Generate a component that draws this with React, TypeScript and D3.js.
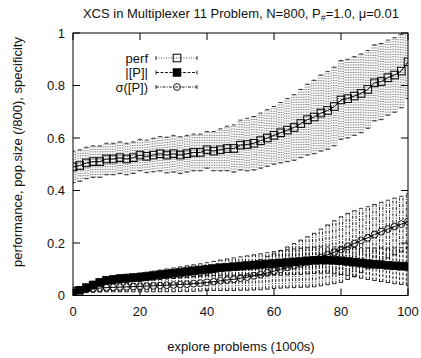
import React from "react";
import * as d3 from "d3";

const xs = d3.range(0, 101, 2);
const perf = [0.49,0.495,0.505,0.51,0.51,0.52,0.52,0.525,0.52,0.525,0.535,0.53,0.535,0.54,0.535,0.54,0.535,0.54,0.545,0.545,0.555,0.55,0.555,0.56,0.56,0.573,0.575,0.58,0.59,0.6,0.61,0.62,0.63,0.64,0.655,0.67,0.68,0.695,0.705,0.72,0.745,0.75,0.76,0.77,0.785,0.81,0.815,0.83,0.84,0.855,0.89];
const perfStd = [0.06,.06,.06,.06,.06,.06,.06,.06,.06,.06,.06,.062,.064,.066,.068,.07,.07,.07,.07,.07,.07,.075,.08,.085,.09,.095,.1,.102,.105,.108,.11,.115,.12,.125,.13,.135,.14,.145,.148,.15,.15,.15,.15,.15,.148,.145,.145,.143,.142,.14,.14];
const popSize = [0.01,.02,.03,.04,.05,.058,.061,.064,.066,.068,.07,.073,.076,.079,.082,.085,.088,.091,.094,.097,.1,.103,.106,.108,.11,.112,.114,.116,.118,.12,.122,.124,.126,.128,.13,.132,.134,.135,.135,.134,.132,.13,.127,.124,.121,.119,.117,.115,.113,.112,.111];
const popStd = [0.01,.012,.013,.014,.014,.014,.014,.015,.015,.015,.016,.016,.017,.018,.019,.02,.021,.022,.023,.024,.025,.027,.029,.031,.033,.035,.037,.039,.041,.043,.045,.047,.048,.049,.05,.05,.05,.05,.05,.051,.052,.054,.056,.058,.06,.062,.064,.066,.068,.07,.072];
const spec = [0.02,.022,.024,.026,.028,.03,.031,.032,.033,.034,.035,.036,.037,.038,.039,.04,.042,.043,.045,.047,.05,.053,.056,.059,.062,.066,.07,.075,.08,.086,.093,.1,.107,.114,.121,.128,.135,.145,.155,.165,.175,.187,.198,.21,.22,.232,.243,.253,.263,.272,.282];
const specStd = [0.01,.012,.013,.014,.015,.016,.017,.018,.019,.02,.021,.022,.023,.024,.025,.026,.027,.028,.029,.03,.031,.034,.037,.04,.043,.046,.05,.054,.058,.062,.066,.072,.078,.084,.09,.096,.102,.108,.114,.12,.125,.126,.125,.122,.118,.115,.112,.11,.108,.106,.105];

const xTicks = [0, 20, 40, 60, 80, 100];
const yTicks = [0, 0.2, 0.4, 0.6, 0.8, 1];
const legendLabels = ["perf", "|[P]|", "σ([P])"];

const L = 73, R = 408, T = 33, B = 295.5;
const FONT = "'Liberation Sans', Arial, Helvetica, sans-serif";

export default function App() {
  const x = d3.scaleLinear().domain([0, 100]).range([L, R]);
  const y = d3.scaleLinear().domain([0, 1]).range([B, T]);
  const line = d3.line<number>().x((_, i) => x(xs[i])).y((d) => y(d));
  const step = x(xs[1]) - x(xs[0]);

  const series = [
    { vals: perf, std: perfStd, dash: "1,1.5", width: 0.7, marker: "sq", strands: 4, color: "#333" },
    { vals: popSize, std: popStd, dash: "3,1.5", width: 0.9, marker: "fsq", strands: 2, color: "#000" },
    { vals: spec, std: specStd, dash: "3,1.2,1,1.2", width: 0.9, marker: "circ", strands: 2, color: "#000" },
  ];

  const marker = (type: string, cx: number, cy: number, key: string) => {
    if (type === "sq")
      return <rect key={key} x={cx - 3.8} y={cy - 3.8} width={7.6} height={7.6} fill="none" stroke="#000" strokeWidth={1} />;
    if (type === "fsq")
      return <rect key={key} x={cx - 4} y={cy - 4} width={8} height={8} fill="#000" stroke="#000" strokeWidth={0.5} />;
    return <circle key={key} cx={cx} cy={cy} r={3.4} fill="none" stroke="#000" strokeWidth={0.9} />;
  };

  return (
    <svg width={421} height={358} style={{ position: "absolute", left: 0, top: 0 }} fontFamily={FONT}>
      <rect width={421} height={358} fill="#fff" />
      <defs>
        <clipPath id="plot">
          <rect x={L} y={T} width={R - L} height={B - T} />
        </clipPath>
      </defs>
      <text x={241} y={18} textAnchor="middle" fontSize={13} fill="#111">
        XCS in Multiplexer 11 Problem, N=800, P<tspan fontSize={9} dy={3}>#</tspan>
        <tspan dy={-3}>=1.0, μ=0.01</tspan>
      </text>
      <g clipPath="url(#plot)">
        {series.map((s, si) => (
          <g key={"eb" + si}>
            {s.vals.map((v, i) => {
              const cx = x(xs[i]);
              const lo = y(v - s.std[i]);
              const hi = y(v + s.std[i]);
              const strands = d3.range(s.strands).map((k) => cx + (k - (s.strands - 1) / 2) * (step / s.strands));
              return (
                <g key={i}>
                  {strands.map((sx, k) => (
                    <line key={k} x1={sx} x2={sx} y1={lo} y2={hi} stroke={s.color} strokeWidth={s.width} strokeDasharray={s.dash} />
                  ))}
                  <line x1={cx - 2} x2={cx + 2} y1={lo} y2={lo} stroke="#000" strokeWidth={0.8} />
                  <line x1={cx - 2} x2={cx + 2} y1={hi} y2={hi} stroke="#000" strokeWidth={0.8} />
                </g>
              );
            })}
          </g>
        ))}
        {series.map((s, si) => (
          <g key={"ln" + si}>
            <path d={line(s.vals) || ""} fill="none" stroke="#000" strokeWidth={1} />
            {s.vals.map((v, i) => marker(s.marker, x(xs[i]), y(v), "m" + i))}
          </g>
        ))}
      </g>
      {xTicks.map((t) => (
        <g key={"xt" + t}>
          <line x1={x(t)} x2={x(t)} y1={B} y2={B - 7} stroke="#000" />
          <line x1={x(t)} x2={x(t)} y1={T} y2={T + 7} stroke="#000" />
          <text x={x(t)} y={316} textAnchor="middle" fontSize={13} fill="#111">{t}</text>
        </g>
      ))}
      {yTicks.map((t) => (
        <g key={"yt" + t}>
          <line x1={L} x2={L + 7} y1={y(t)} y2={y(t)} stroke="#000" />
          <line x1={R} x2={R - 7} y1={y(t)} y2={y(t)} stroke="#000" />
          <text x={65} y={y(t) + 4.5} textAnchor="end" fontSize={13} fill="#111">{t}</text>
        </g>
      ))}
      <rect x={L} y={T} width={R - L} height={B - T} fill="none" stroke="#000" strokeWidth={1} />
      {series.map((s, si) => {
        const ly = 58 + si * 14.5;
        return (
          <g key={"lg" + si}>
            <text x={148} y={ly + 4.5} textAnchor="end" fontSize={13} fill="#111">{legendLabels[si]}</text>
            <line x1={156} x2={197} y1={ly} y2={ly} stroke="#000" strokeWidth={s.width} strokeDasharray={s.dash} />
            <line x1={156} x2={156} y1={ly - 2} y2={ly + 2} stroke="#000" strokeWidth={0.8} />
            <line x1={197} x2={197} y1={ly - 2} y2={ly + 2} stroke="#000" strokeWidth={0.8} />
            {marker(s.marker, 177, ly, "lm")}
          </g>
        );
      })}
      <text x={241} y={351} textAnchor="middle" fontSize={13} fill="#111">explore problems (1000s)</text>
      <text transform="translate(22,152) rotate(-90)" textAnchor="middle" fontSize={13} fill="#111">
        performance, pop.size (/800), specificity
      </text>
    </svg>
  );
}
